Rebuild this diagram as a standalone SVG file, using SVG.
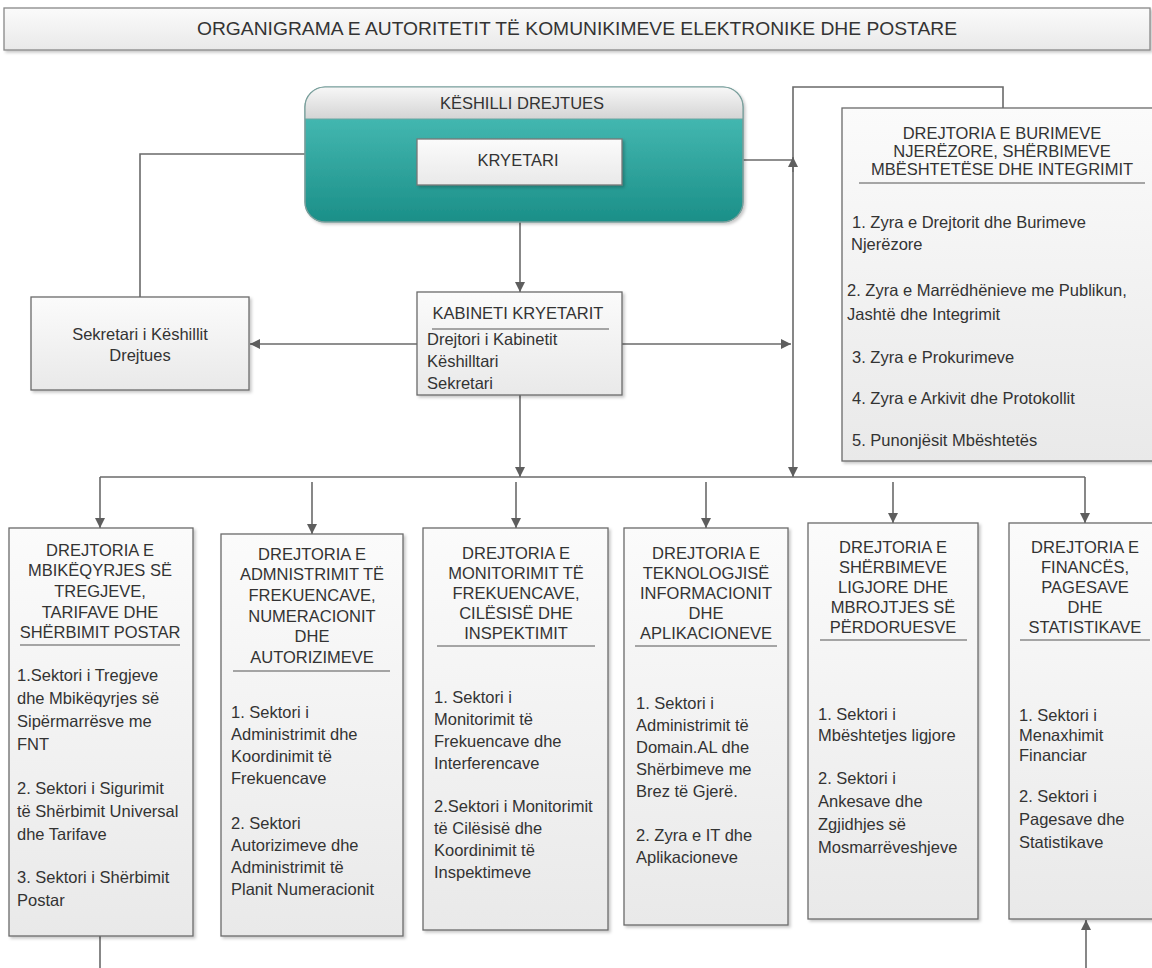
<svg xmlns="http://www.w3.org/2000/svg" width="1152" height="968" viewBox="0 0 1152 968">
<style>
  text { font-family: "Liberation Sans", Arial, sans-serif; font-size: 16.5px; fill: #333; }
  .c { text-anchor: middle; }
  .box { fill: url(#gBox); stroke: #6a6a6a; stroke-width: 1.3; filter: url(#sh); }
  .ul { stroke: #555; stroke-width: 1.2; }
  .con { fill: none; stroke: #6a6a6a; stroke-width: 1.6; }
  .arr { marker-end: url(#ah); }
</style>
<defs>
  <linearGradient id="gBox" x1="0" y1="0" x2="0" y2="1">
    <stop offset="0" stop-color="#fbfbfb"/>
    <stop offset="1" stop-color="#e9e9e9"/>
  </linearGradient>
  <linearGradient id="gTeal" x1="0" y1="0" x2="0" y2="1">
    <stop offset="0" stop-color="#4fc3bc"/>
    <stop offset="1" stop-color="#1b8f88"/>
  </linearGradient>
  <linearGradient id="gHead" x1="0" y1="0" x2="0" y2="1">
    <stop offset="0" stop-color="#f7f7f7"/>
    <stop offset="1" stop-color="#d4d4d4"/>
  </linearGradient>
  <filter id="sh" x="-10%" y="-10%" width="130%" height="130%">
    <feDropShadow dx="2" dy="2" stdDeviation="1.8" flood-color="#000" flood-opacity="0.22"/>
  </filter>
  <clipPath id="tealClip"><rect x="305" y="87" width="438" height="135" rx="20"/></clipPath>
  <marker id="ah" viewBox="0 0 10 10" refX="10" refY="5" markerWidth="10" markerHeight="10" markerUnits="userSpaceOnUse" orient="auto">
    <path d="M0,0 L10,5 L0,10 z" fill="#5e5e5e"/>
  </marker>
</defs>

<rect width="1152" height="968" fill="#fff"/>

<g id="title">
  <rect x="4" y="8" width="1146" height="42" class="box" style="stroke:#888"/>
  <text x="577" y="35" class="c" style="font-size:17.5px" textLength="760" lengthAdjust="spacingAndGlyphs">ORGANIGRAMA E AUTORITETIT TË KOMUNIKIMEVE ELEKTRONIKE DHE POSTARE</text>
</g>

<g id="connectors">
  <path class="con arr" d="M520,185 V292"/>
  <path class="con" d="M305,154 H140 V297"/>
  <path class="con" d="M622,160 H793"/>
  <path class="con arr" d="M1003,108 V87 H793 V477"/>
  <path class="con arr" d="M793,172 V157"/>
  <path class="con arr" d="M417,344 H250"/>
  <path class="con arr" d="M622,344 H791"/>
  <path class="con arr" d="M520,395 V477"/>
  <path class="con" d="M100,477 H1085"/>
  <path class="con arr" d="M100,477 V528"/>
  <path class="con arr" d="M1085,477 V523"/>
  <path class="con arr" d="M312,482 V534"/>
  <path class="con arr" d="M516,482 V528"/>
  <path class="con arr" d="M706,482 V528"/>
  <path class="con arr" d="M893,482 V523"/>
  <path class="con" d="M100,936 V968"/>
  <path class="con arr" d="M1086,968 V920"/>
</g>

<g id="keshilli">
  <rect x="305" y="87" width="438" height="135" rx="20" fill="url(#gTeal)" stroke="#6f9c99" stroke-width="1.2" filter="url(#sh)"/>
  <g clip-path="url(#tealClip)">
    <rect x="305" y="87" width="438" height="32" fill="url(#gHead)"/>
    <line x1="305" y1="119" x2="743" y2="119" stroke="#6aa6a2" stroke-width="1"/>
  </g>
  <rect x="305" y="87" width="438" height="135" rx="20" fill="none" stroke="#7a9e9b" stroke-width="1.2"/>
  <text x="522" y="109" class="c">KËSHILLI DREJTUES</text>
</g>

<g id="kryetari">
  <rect x="417" y="139" width="205" height="46" class="box" style="stroke:#777"/>
  <text x="518" y="166" class="c">KRYETARI</text>
</g>

<g id="sekretari">
  <rect x="31" y="297" width="218" height="93" class="box"/>
  <text x="140" y="340" class="c">Sekretari i Këshillit</text>
  <text x="140" y="361" class="c">Drejtues</text>
</g>

<g id="kabineti">
  <rect x="417" y="292" width="205" height="103" class="box"/>
  <text x="518" y="319" class="c">KABINETI KRYETARIT</text>
  <line x1="432" y1="329" x2="609" y2="329" class="ul"/>
  <text x="427" y="345">Drejtori i Kabinetit</text>
  <text x="427" y="367">Këshilltari</text>
  <text x="427" y="389">Sekretari</text>
</g>

<g id="burimeve">
  <rect x="842" y="108" width="320" height="353" class="box"/>
  <text x="1002" y="139" class="c">DREJTORIA E BURIMEVE</text>
  <text x="1002" y="157" class="c">NJERËZORE, SHËRBIMEVE</text>
  <text x="1002" y="175" class="c">MBËSHTETËSE DHE INTEGRIMIT</text>
  <line x1="859" y1="183" x2="1145" y2="183" class="ul"/>
  <text x="852" y="228">1. Zyra e Drejtorit dhe Burimeve</text>
  <text x="851" y="250">Njerëzore</text>
  <text x="847" y="296">2. Zyra e Marrëdhënieve me Publikun,</text>
  <text x="847" y="320">Jashtë dhe Integrimit</text>
  <text x="852" y="363">3. Zyra e Prokurimeve</text>
  <text x="852" y="404">4. Zyra e Arkivit dhe Protokollit</text>
  <text x="852" y="446">5. Punonjësit Mbështetës</text>
</g>

<g id="d1">
  <rect x="9" y="528" width="184" height="408" class="box"/>
  <text x="100" y="556" class="c">DREJTORIA E</text>
  <text x="100" y="576" class="c">MBIKËQYRJES SË</text>
  <text x="100" y="597" class="c">TREGJEVE,</text>
  <text x="100" y="618" class="c">TARIFAVE DHE</text>
  <text x="100" y="638" class="c">SHËRBIMIT POSTAR</text>
  <line x1="20" y1="645" x2="180" y2="645" class="ul"/>
  <text x="17" y="681">1.Sektori i Tregjeve</text>
  <text x="17" y="704">dhe Mbikëqyrjes së</text>
  <text x="17" y="727">Sipërmarrësve me</text>
  <text x="17" y="750">FNT</text>
  <text x="17" y="794">2. Sektori i Sigurimit</text>
  <text x="17" y="817">të Shërbimit Universal</text>
  <text x="17" y="840">dhe Tarifave</text>
  <text x="17" y="883">3. Sektori i Shërbimit</text>
  <text x="17" y="906">Postar</text>
</g>

<g id="d2">
  <rect x="221" y="534" width="182" height="402" class="box"/>
  <text x="312" y="560" class="c">DREJTORIA E</text>
  <text x="312" y="580" class="c">ADMNISTRIMIT TË</text>
  <text x="312" y="601" class="c">FREKUENCAVE,</text>
  <text x="312" y="622" class="c">NUMERACIONIT</text>
  <text x="312" y="642" class="c">DHE</text>
  <text x="312" y="663" class="c">AUTORIZIMEVE</text>
  <line x1="233" y1="671" x2="390" y2="671" class="ul"/>
  <text x="231" y="718">1. Sektori i</text>
  <text x="231" y="740">Administrimit dhe</text>
  <text x="231" y="762">Koordinimit të</text>
  <text x="231" y="784">Frekuencave</text>
  <text x="231" y="829">2. Sektori</text>
  <text x="231" y="851">Autorizimeve dhe</text>
  <text x="231" y="873">Administrimit të</text>
  <text x="231" y="895">Planit Numeracionit</text>
</g>

<g id="d3">
  <rect x="423" y="528" width="185" height="402" class="box"/>
  <text x="516" y="559" class="c">DREJTORIA E</text>
  <text x="516" y="579" class="c">MONITORIMIT TË</text>
  <text x="516" y="599" class="c">FREKUENCAVE,</text>
  <text x="516" y="619" class="c">CILËSISË DHE</text>
  <text x="516" y="639" class="c">INSPEKTIMIT</text>
  <line x1="437" y1="646" x2="595" y2="646" class="ul"/>
  <text x="434" y="703">1. Sektori i</text>
  <text x="434" y="725">Monitorimit të</text>
  <text x="434" y="747">Frekuencave dhe</text>
  <text x="434" y="769">Interferencave</text>
  <text x="434" y="812">2.Sektori i Monitorimit</text>
  <text x="434" y="834">të Cilësisë dhe</text>
  <text x="434" y="856">Koordinimit të</text>
  <text x="434" y="878">Inspektimeve</text>
</g>

<g id="d4">
  <rect x="624" y="528" width="164" height="397" class="box"/>
  <text x="706" y="559" class="c">DREJTORIA E</text>
  <text x="706" y="579" class="c">TEKNOLOGJISË</text>
  <text x="706" y="599" class="c">INFORMACIONIT</text>
  <text x="706" y="619" class="c">DHE</text>
  <text x="706" y="639" class="c">APLIKACIONEVE</text>
  <line x1="635" y1="646" x2="777" y2="646" class="ul"/>
  <text x="636" y="709">1. Sektori i</text>
  <text x="636" y="731">Administrimit të</text>
  <text x="636" y="753">Domain.AL dhe</text>
  <text x="636" y="775">Shërbimeve me</text>
  <text x="636" y="797">Brez të Gjerë.</text>
  <text x="636" y="841">2. Zyra e IT dhe</text>
  <text x="636" y="863">Aplikacioneve</text>
</g>

<g id="d5">
  <rect x="808" y="523" width="170" height="396" class="box"/>
  <text x="893" y="553" class="c">DREJTORIA E</text>
  <text x="893" y="573" class="c">SHËRBIMEVE</text>
  <text x="893" y="593" class="c">LIGJORE DHE</text>
  <text x="893" y="613" class="c">MBROJTJES SË</text>
  <text x="893" y="633" class="c">PËRDORUESVE</text>
  <line x1="820" y1="640" x2="967" y2="640" class="ul"/>
  <text x="818" y="720">1. Sektori i</text>
  <text x="818" y="741">Mbështetjes ligjore</text>
  <text x="818" y="784">2. Sektori i</text>
  <text x="818" y="807">Ankesave dhe</text>
  <text x="818" y="830">Zgjidhjes së</text>
  <text x="818" y="853">Mosmarrëveshjeve</text>
</g>

<g id="d6">
  <rect x="1009" y="523" width="153" height="396" class="box"/>
  <text x="1085" y="553" class="c">DREJTORIA E</text>
  <text x="1085" y="573" class="c">FINANCËS,</text>
  <text x="1085" y="593" class="c">PAGESAVE</text>
  <text x="1085" y="613" class="c">DHE</text>
  <text x="1085" y="633" class="c">STATISTIKAVE</text>
  <line x1="1020" y1="640" x2="1150" y2="640" class="ul"/>
  <text x="1019" y="721">1. Sektori i</text>
  <text x="1019" y="741">Menaxhimit</text>
  <text x="1019" y="761">Financiar</text>
  <text x="1019" y="802">2. Sektori i</text>
  <text x="1019" y="825">Pagesave dhe</text>
  <text x="1019" y="848">Statistikave</text>
</g>
</svg>
